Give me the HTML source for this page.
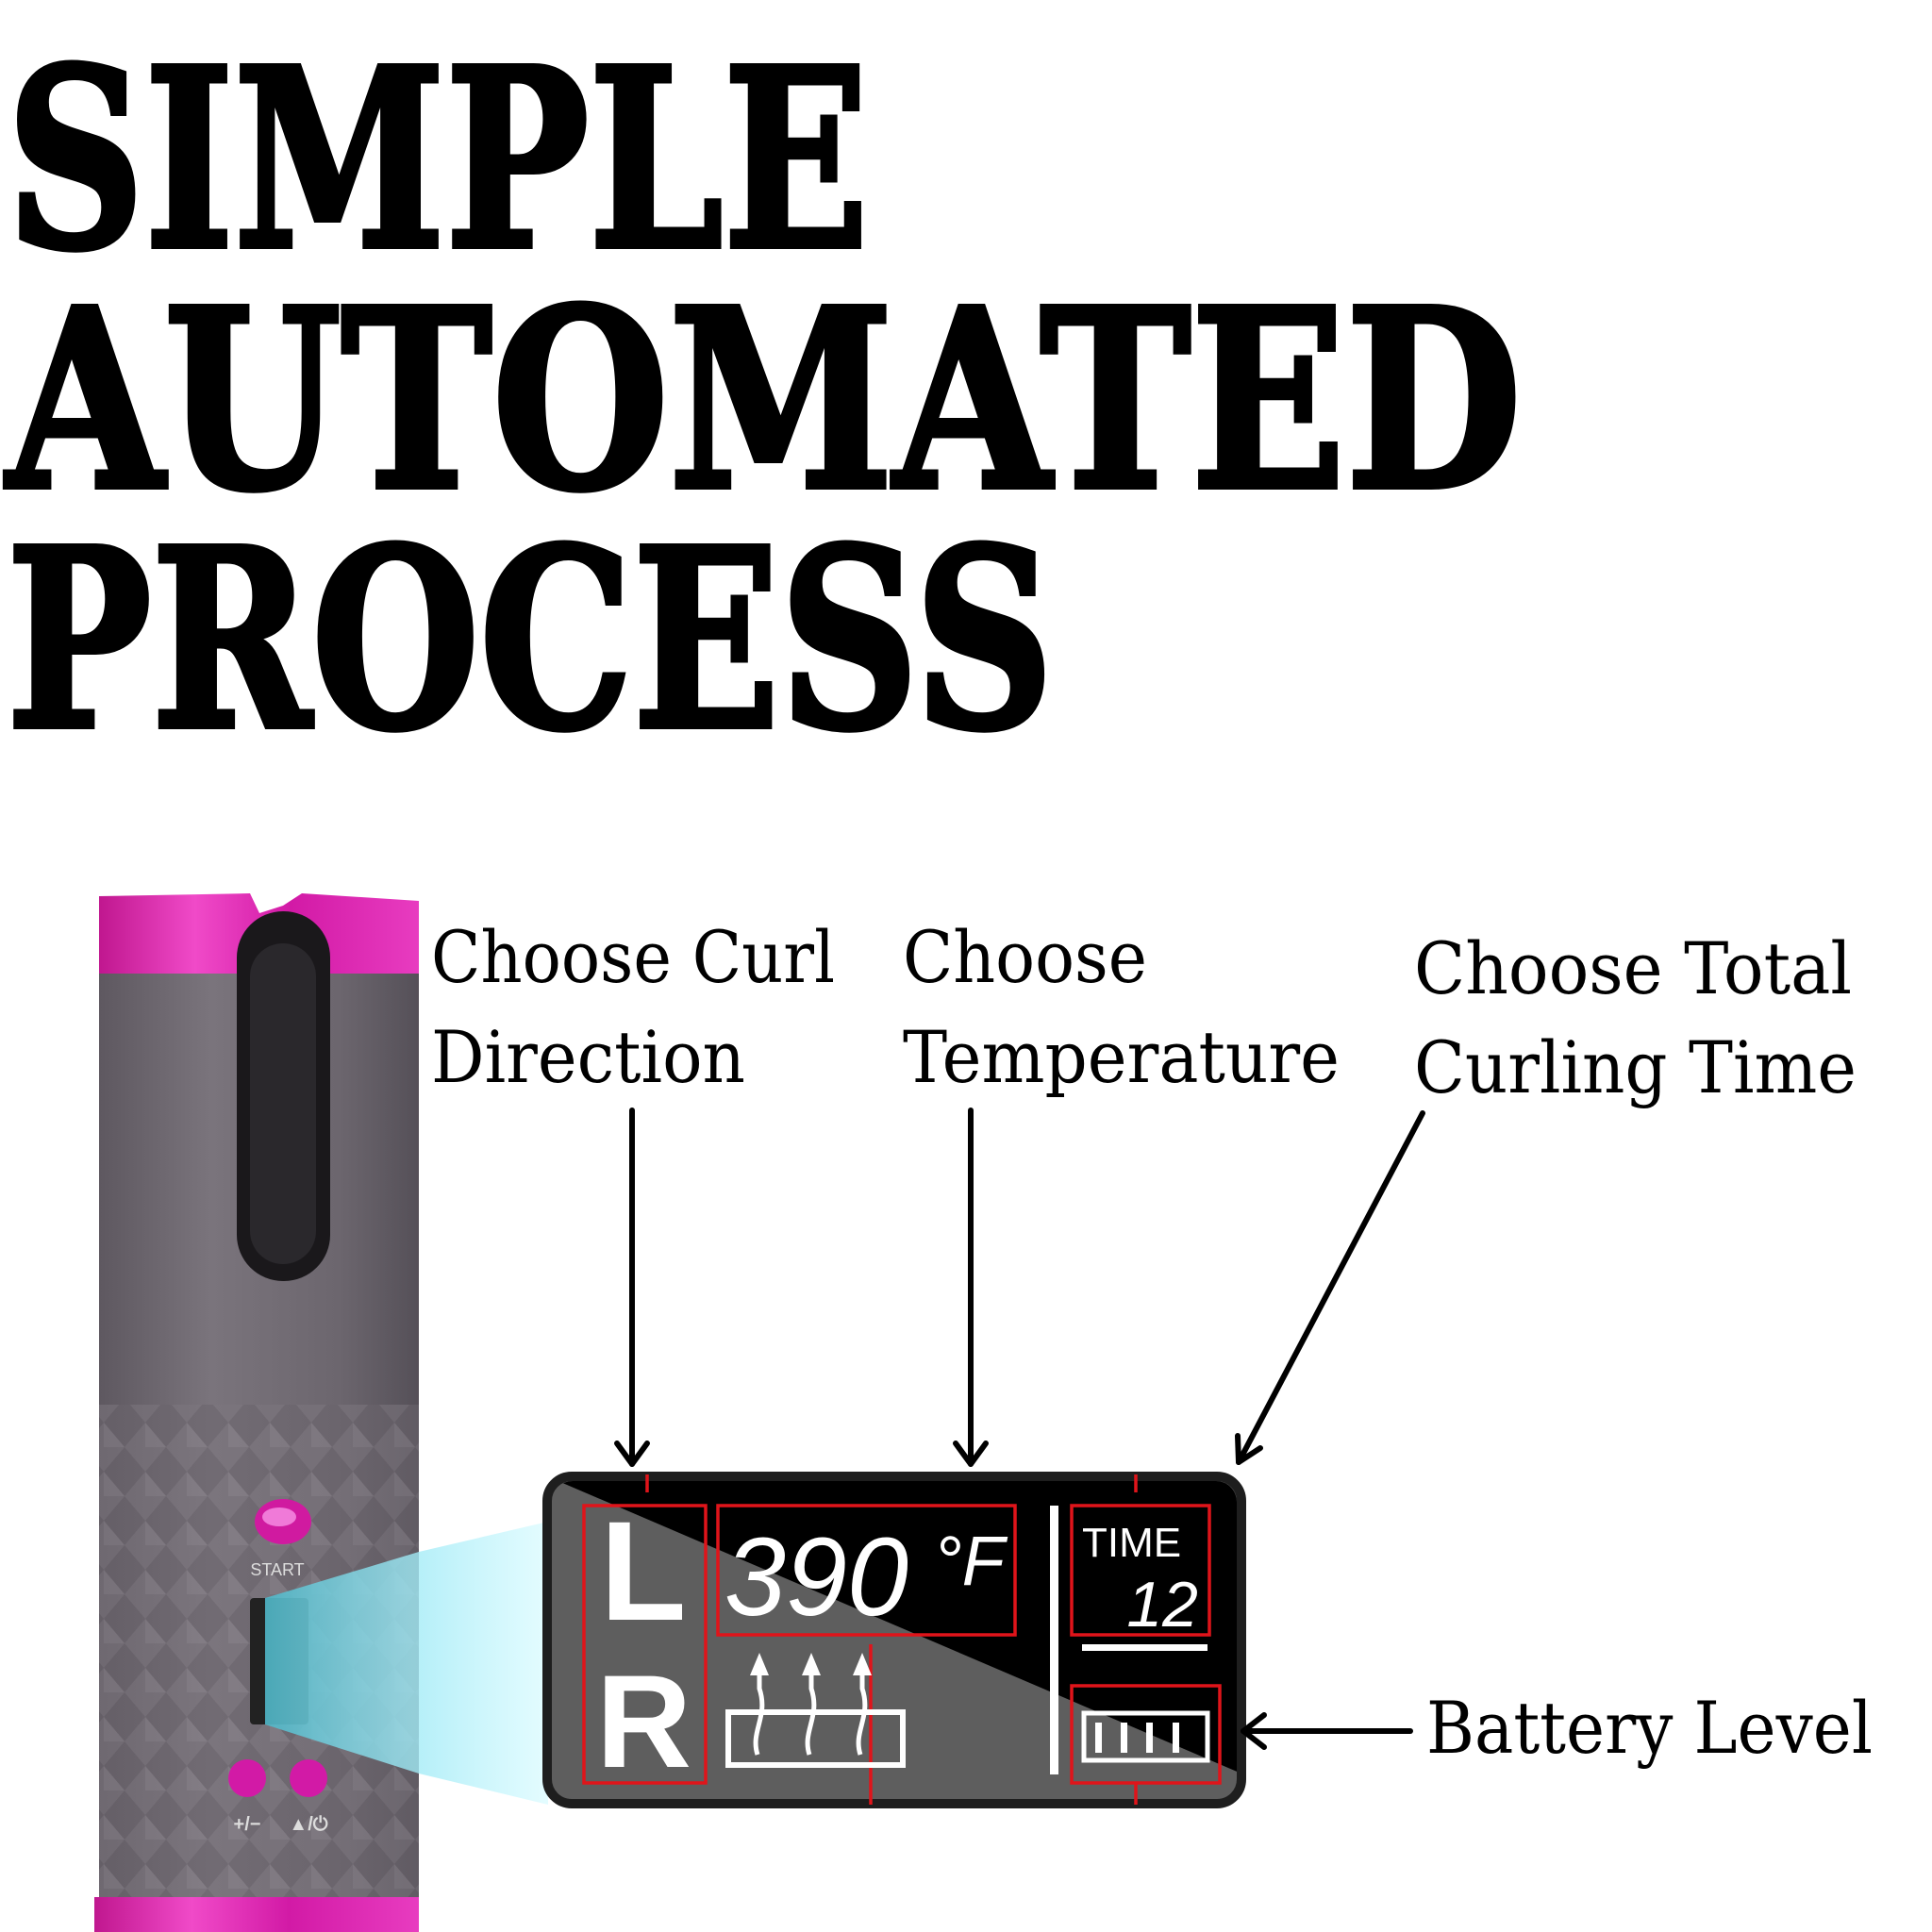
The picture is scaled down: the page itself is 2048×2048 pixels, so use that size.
<!DOCTYPE html>
<html><head><meta charset="utf-8"><style>
html,body{margin:0;padding:0;background:#fff}
svg{display:block}
</style></head><body>
<svg width="2048" height="2048" viewBox="0 0 2048 2048" xmlns="http://www.w3.org/2000/svg">
<defs>
<linearGradient id="gr" x1="0" x2="1" y1="0" y2="0">
<stop offset="0" stop-color="#5e5860"/><stop offset="0.35" stop-color="#7a747c"/><stop offset="0.75" stop-color="#6c666e"/><stop offset="1" stop-color="#555058"/></linearGradient>
<linearGradient id="pk" x1="0" x2="1" y1="0" y2="0">
<stop offset="0" stop-color="#c0178f"/><stop offset="0.3" stop-color="#f04ac8"/><stop offset="0.6" stop-color="#d21aa6"/><stop offset="1" stop-color="#e83cc0"/></linearGradient>
<linearGradient id="cy" x1="0" x2="1" y1="0" y2="0">
<stop offset="0" stop-color="#4fb7c8" stop-opacity="0.9"/><stop offset="0.5" stop-color="#9eeaf6" stop-opacity="0.8"/><stop offset="1" stop-color="#d8fbff" stop-opacity="0.7"/></linearGradient>
<pattern id="dia" width="44" height="52" patternUnits="userSpaceOnUse">
<rect width="44" height="52" fill="#6a646c"/>
<polygon points="22,0 44,26 22,52 0,26" fill="#7c767e"/>
<polygon points="22,0 44,26 22,26" fill="#8a848c"/>
</pattern>
</defs>
<g font-family="'DejaVu Serif',serif" font-weight="bold" fill="#000" stroke="#000" stroke-width="6">
<text x="7" y="261" font-size="262" textLength="914" lengthAdjust="spacingAndGlyphs">SIMPLE</text>
<text x="7" y="516" font-size="262" textLength="1606" lengthAdjust="spacingAndGlyphs">AUTOMATED</text>
<text x="7" y="770" font-size="262" textLength="1110" lengthAdjust="spacingAndGlyphs">PROCESS</text>
</g>
<g font-family="'DejaVu Serif',serif" fill="#000" font-size="76">
<text x="457" y="1041" textLength="428" lengthAdjust="spacingAndGlyphs">Choose Curl</text>
<text x="457" y="1147" textLength="333" lengthAdjust="spacingAndGlyphs">Direction</text>
<text x="957" y="1041" textLength="259" lengthAdjust="spacingAndGlyphs">Choose</text>
<text x="957" y="1147" textLength="463" lengthAdjust="spacingAndGlyphs">Temperature</text>
<text x="1499" y="1053" textLength="464" lengthAdjust="spacingAndGlyphs">Choose Total</text>
<text x="1499" y="1158" textLength="469" lengthAdjust="spacingAndGlyphs">Curling Time</text>
<text x="1512" y="1858" textLength="473" lengthAdjust="spacingAndGlyphs">Battery Level</text>
</g>
<!-- curler -->
<rect x="105" y="1489" width="339" height="530" fill="url(#dia)"/>
<rect x="105" y="1489" width="339" height="530" fill="url(#gr)" opacity="0.45"/>
<rect x="105" y="1032" width="339" height="457" fill="url(#gr)"/>
<path d="M105,950 L265,947 L275,968 L300,960 L320,947 L444,955 L444,1032 L105,1032 Z" fill="url(#pk)"/>
<rect x="100" y="2011" width="344" height="40" fill="url(#pk)"/>
<rect x="251" y="966" width="99" height="392" rx="49" fill="#1a181b"/>
<rect x="265" y="1000" width="70" height="340" rx="35" fill="#2a282c"/>
<ellipse cx="300" cy="1613" rx="30" ry="24" fill="#d01aa0"/>
<ellipse cx="296" cy="1608" rx="18" ry="10" fill="#f07ad8"/>
<text x="294" y="1670" font-family="'Liberation Sans',sans-serif" font-size="18" fill="#ddd" text-anchor="middle">START</text>
<rect x="265" y="1694" width="62" height="134" rx="4" fill="#222"/>
<circle cx="262" cy="1885" r="20" fill="#d21aa6"/>
<circle cx="327" cy="1885" r="20" fill="#d21aa6"/>
<text x="262" y="1940" font-family="'Liberation Sans',sans-serif" font-weight="bold" font-size="20" fill="#ddd" text-anchor="middle">+/−</text>
<text x="327" y="1940" font-family="'Liberation Sans',sans-serif" font-weight="bold" font-size="20" fill="#ddd" text-anchor="middle">▲/⏻</text>
<polygon points="281,1694 444,1645 581,1613 581,1913 444,1880 281,1828" fill="url(#cy)"/>
<!-- LCD panel -->
<rect x="580" y="1565" width="736" height="347" rx="26" fill="#5e5e5e" stroke="#1e1e1e" stroke-width="10"/>
<clipPath id="pc"><rect x="585" y="1570" width="726" height="337" rx="22"/></clipPath>
<polygon clip-path="url(#pc)" points="580,1565 1316,1565 1316,1880 " fill="#000"/>
<g fill="none" stroke="#e0141a" stroke-width="3.5">
<rect x="619" y="1596" width="129" height="294"/>
<rect x="761" y="1596" width="315" height="137"/>
<rect x="1136" y="1596" width="146" height="137"/>
<rect x="1136" y="1787" width="157" height="103"/>
<line x1="923" y1="1743" x2="923" y2="1913"/>
<line x1="686" y1="1563" x2="686" y2="1582"/>
<line x1="1204" y1="1563" x2="1204" y2="1582"/>
<line x1="1204" y1="1890" x2="1204" y2="1913"/>
</g>
<g font-family="'Liberation Sans',sans-serif" font-weight="bold" fill="#fff">
<text x="636" y="1717" font-size="150">L</text>
<text x="632" y="1873" font-size="140">R</text>
<text x="768" y="1712" font-size="118" font-style="italic" font-weight="normal" textLength="195" lengthAdjust="spacingAndGlyphs">390</text>
<text x="990" y="1680" font-size="74" font-style="italic" font-weight="normal">°F</text>
<text x="1147" y="1650" font-size="44" font-weight="normal">TIME</text>
<text x="1270" y="1724" font-size="68" font-style="italic" font-weight="normal" text-anchor="end">12</text>
</g>
<rect x="1113" y="1596" width="9" height="285" fill="#fff"/>
<rect x="1147" y="1743" width="133" height="7" fill="#fff"/>
<rect x="1149" y="1816" width="131" height="50" fill="none" stroke="#fff" stroke-width="5"/>
<g fill="#fff"><rect x="1161" y="1826" width="7" height="32"/><rect x="1188" y="1826" width="7" height="32"/><rect x="1215" y="1826" width="7" height="32"/><rect x="1243" y="1826" width="7" height="32"/></g>
<rect x="772" y="1815" width="185" height="56" fill="none" stroke="#fff" stroke-width="6"/>
<g fill="none" stroke="#fff" stroke-width="5">
<path d="M803,1860 C795,1835 815,1820 805,1790 L805,1760"/>
<path d="M858,1860 C850,1835 870,1820 860,1790 L860,1760"/>
<path d="M912,1860 C904,1835 924,1820 914,1790 L914,1760"/>
</g>
<g fill="#fff"><polygon points="805,1752 795,1776 815,1776"/><polygon points="860,1752 850,1776 870,1776"/><polygon points="914,1752 904,1776 924,1776"/></g>
<!-- arrows -->
<g stroke="#000" stroke-width="6" fill="none" stroke-linecap="round" stroke-linejoin="round">
<line x1="670" y1="1177" x2="670" y2="1552"/><polyline points="654,1530 670,1552 686,1530"/>
<line x1="1029" y1="1177" x2="1029" y2="1552"/><polyline points="1013,1530 1029,1552 1045,1530"/>
<line x1="1508" y1="1180" x2="1313" y2="1550"/><polyline points="1312,1522 1313,1550 1336,1535"/>
<line x1="1495" y1="1835" x2="1318" y2="1835"/><polyline points="1340,1818 1318,1835 1340,1852"/>
</g>
</svg>
</body></html>
